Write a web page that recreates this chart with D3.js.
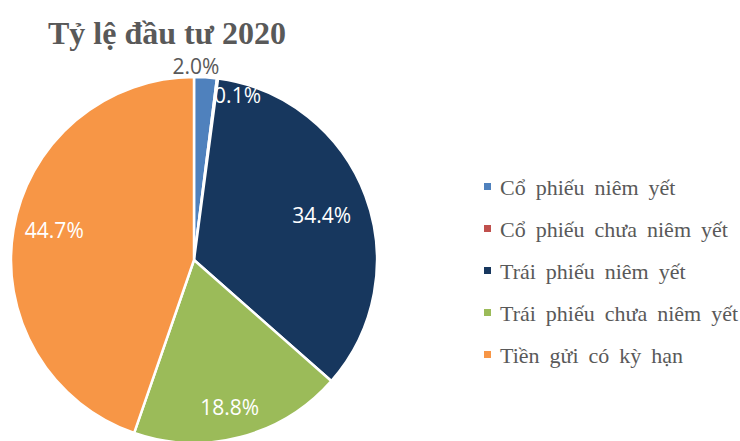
<!DOCTYPE html>
<html>
<head>
<meta charset="utf-8">
<script src="https://cdn.jsdelivr.net/npm/d3@7"></script>
<style>
  body { margin: 0; background: #fff; }
</style>
</head>
<body>
<script>
const width = 740, height = 441;

const categories = ["Cổ phiếu niêm yết", "Cổ phiếu chưa niêm yết", "Trái phiếu niêm yết", "Trái phiếu chưa niêm yết", "Tiền gửi có kỳ hạn"];
const values = [2.0, 0.1, 34.4, 18.8, 44.7];
const colors = ["#4F81BD", "#C0504D", "#17375E", "#9BBB59", "#F79646"];
// label radius (as share of r) and small angle nudge, like excel best fit
const labelRadius = [1.06, 0.93, 0.74, 0.83, 0.78];
const labelNudge = [-0.053, 0.13, 0.02, 0.02, 0.04];

const cx = 194, cy = 260, r = 183;

const svg = d3.select("body").append("svg")
    .attr("width", width)
    .attr("height", height);

svg.append("text")
    .attr("x", 48)
    .attr("y", 44)
    .style("font-family", "'Liberation Serif', 'Times New Roman', serif")
    .style("font-weight", "bold")
    .style("font-size", "32px")
    .attr("fill", "#595959")
    .text("Tỷ lệ đầu tư 2020");

const pie = d3.pie().sort(null).value(d => d)(values);
const arc = d3.arc().innerRadius(0).outerRadius(r);

const g = svg.append("g").attr("transform", `translate(${cx},${cy})`);

g.selectAll("path")
  .data(pie)
  .join("path")
    .attr("d", arc)
    .attr("fill", (d, i) => colors[i])
    .attr("stroke", "#fff")
    .attr("stroke-width", 2.5)
    .attr("stroke-linejoin", "round");

g.selectAll("text")
  .data(pie)
  .join("text")
    .attr("transform", (d, i) => {
      const k = labelRadius[i] * r;
      const a = (d.startAngle + d.endAngle) / 2 + labelNudge[i];
      return `translate(${Math.sin(a) * k},${-Math.cos(a) * k})`;
    })
    .attr("text-anchor", "middle")
    .attr("dy", "0.36em")
    .style("font-family", "'Open Sans', sans-serif")
    .style("font-size", "21px")
    .attr("fill", (d, i) => i === 0 ? "#595959" : "#fff")
    .text(d => d.value.toFixed(1) + "%");

const y = d3.scalePoint()
    .domain(categories)
    .range([187, 355]);

const legend = svg.append("g")
  .selectAll("g")
  .data(categories)
  .join("g")
    .attr("transform", d => `translate(484,${y(d)})`);

legend.append("rect")
    .attr("x", 0)
    .attr("y", -4)
    .attr("width", 7)
    .attr("height", 7)
    .attr("fill", (d, i) => colors[i]);

legend.append("text")
    .attr("x", 16)
    .attr("dy", "0.35em")
    .style("font-family", "'Liberation Serif', 'Times New Roman', serif")
    .style("font-size", "22px")
    .style("word-spacing", "4.5px")
    .attr("fill", "#595959")
    .text(d => d);
</script>
</body>
</html>
